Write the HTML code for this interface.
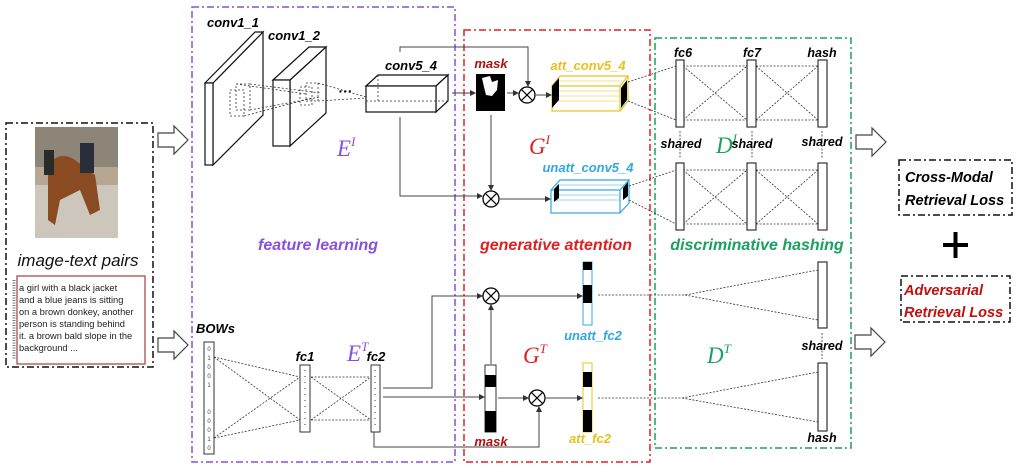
<!DOCTYPE html>
<html><head><meta charset="utf-8"><style>
body{margin:0;background:#fff}
svg{display:block}
text{font-family:"Liberation Sans",sans-serif;font-weight:bold;font-style:italic}
text.n{font-weight:normal}
text.p{font-weight:normal;font-style:normal}
text.s{font-family:"Liberation Serif",serif;font-weight:normal;font-style:italic}
</style></head><body>
<svg width="1021" height="472" viewBox="0 0 1021 472" xmlns="http://www.w3.org/2000/svg">
<defs>
<marker id="a" markerWidth="6" markerHeight="6" refX="5" refY="3" orient="auto"><path d="M0,0 L6,3 L0,6 z" fill="#333"/></marker>
<g id="ox"><circle r="8" fill="#fff" stroke="#000" stroke-width="1.3"/><path d="M-5.6,-5.6 L5.6,5.6 M5.6,-5.6 L-5.6,5.6" stroke="#000" stroke-width="1.2"/></g>
<g id="barr"><path d="M0,-7 H16 V-14 L30,0 L16,14 V7 H0 Z" fill="#fff" stroke="#444" stroke-width="1.2"/></g>
</defs>

<rect x="6" y="123" width="147" height="244" fill="none" stroke="#111" stroke-width="1.5" stroke-dasharray="7,3,2,3"/>
<rect x="192" y="7" width="263" height="455" fill="none" stroke="#8a4fe0" stroke-width="1.5" stroke-dasharray="7,3,2,3"/>
<rect x="464" y="30" width="186" height="432" fill="none" stroke="#e02020" stroke-width="1.5" stroke-dasharray="7,3,2,3"/>
<rect x="655" y="38" width="196" height="410" fill="none" stroke="#1aa060" stroke-width="1.5" stroke-dasharray="7,3,2,3"/>

<rect x="35" y="127" width="83" height="111" fill="#b7a792"/>
<rect x="35" y="127" width="83" height="40" fill="#8d8578"/>
<rect x="35" y="185" width="83" height="53" fill="#ccc6bd"/>
<path d="M48,165 Q60,150 75,160 L95,175 L100,210 L90,215 L80,190 L60,200 L55,225 L48,220 Z" fill="#8a4a22"/>
<rect x="80" y="143" width="14" height="30" fill="#2a2e3a"/>
<rect x="44" y="150" width="10" height="25" fill="#2a2a2a"/>
<text class="n" x="78" y="266" font-size="17" text-anchor="middle" fill="#111">image-text pairs</text>
<rect x="17" y="276" width="128" height="88" fill="#fff" stroke="#a04040" stroke-width="1.2"/>
<line x1="14" y1="280" x2="14" y2="360" stroke="#777" stroke-width="3" stroke-dasharray="1,1.5"/>
<g font-size="9.3" fill="#222">
<text class="p" x="19" y="291">a girl with a black jacket</text>
<text class="p" x="19" y="303">and a blue jeans is sitting</text>
<text class="p" x="19" y="315">on a brown donkey, another</text>
<text class="p" x="19" y="327">person is standing behind</text>
<text class="p" x="19" y="339">it. a brown bald slope in the</text>
<text class="p" x="19" y="351">background ...</text>
</g>
<use href="#barr" x="158" y="140"/>
<use href="#barr" x="158" y="345"/>
<use href="#barr" x="856" y="142"/>
<use href="#barr" x="855" y="342"/>

<g fill="#fff" stroke="#111" stroke-width="1.2">
<path d="M213,83 L263,32 L263,115 L213,165 Z"/>
<path d="M205,83 L255,32 L263,32 L213,83 Z"/>
<rect x="205" y="83" width="8" height="82"/>
<path d="M290,80 L326,47 L326,113 L290,146 Z"/>
<path d="M273,80 L309,47 L326,47 L290,80 Z"/>
<rect x="273" y="80" width="17" height="66"/>
<path d="M366,86 L378,75 L448,75 L436,86 Z"/>
<path d="M436,86 L448,75 L448,101 L436,112 Z"/>
<rect x="366" y="86" width="70" height="26"/>
</g>
<g fill="none" stroke="#333" stroke-width="0.8" stroke-dasharray="2,2">
<rect x="230" y="90" width="14" height="26"/><rect x="236" y="84" width="14" height="26"/>
<rect x="300" y="87" width="12" height="18"/><rect x="306" y="83" width="12" height="18"/>
<line x1="250" y1="84" x2="320" y2="93"/><line x1="250" y1="110" x2="320" y2="97"/>
<line x1="244" y1="116" x2="312" y2="98"/><line x1="236" y1="84" x2="306" y2="94"/>
<line x1="318" y1="83" x2="366" y2="97"/><line x1="318" y1="101" x2="366" y2="98"/>
<line x1="378" y1="75" x2="378" y2="101"/><line x1="366" y1="101" x2="448" y2="101"/>
</g>
<text x="338" y="96" font-size="14" fill="#000">···</text>
<g font-size="13" fill="#000">
<text x="233" y="27" text-anchor="middle">conv1_1</text>
<text x="294" y="40" text-anchor="middle">conv1_2</text>
<text x="385" y="70">conv5_4</text>
</g>
<g font-size="23">
<text class="s" x="337" y="156" fill="#8a4fe0">E<tspan font-size="13" dy="-10">I</tspan></text>
<text class="s" x="529" y="154" fill="#e02020">G<tspan font-size="13" dy="-10">I</tspan></text>
<text class="s" x="716" y="153" fill="#1aa060">D<tspan font-size="13" dy="-10">I</tspan></text>
<text class="s" x="347" y="361" fill="#8a4fe0">E<tspan font-size="13" dy="-10">T</tspan></text>
<text class="s" x="523" y="363" fill="#e02020">G<tspan font-size="13" dy="-10">T</tspan></text>
<text class="s" x="707" y="363" fill="#1aa060">D<tspan font-size="13" dy="-10">T</tspan></text>
</g>

<g font-size="16">
<text x="318" y="250" text-anchor="middle" fill="#8a4fe0">feature  learning</text>
<text x="556" y="250" text-anchor="middle" fill="#e02020">generative attention</text>
<text x="757" y="250" text-anchor="middle" fill="#1aa060">discriminative hashing</text>
</g>

<rect x="476" y="74" width="29" height="37" fill="#000"/>
<path d="M482,78 L490,76 L492,82 L498,80 L497,90 L492,96 L486,95 L484,87 Z" fill="#fff"/>
<text x="491" y="68" font-size="13" text-anchor="middle" fill="#b01010">mask</text>
<g fill="none" stroke="#e8c020" stroke-width="1.2">
<rect x="552" y="86" width="68" height="25"/>
<path d="M552,86 L560,76 L628,76 L620,86 M620,111 L628,101 L628,76"/>
<path d="M556,81 H624 M554,91 H620 M554,96 H620 M554,101 H620" stroke-width="0.5"/>
</g>
<path d="M552,86 L559,78 L559,100 L552,108 Z" fill="#000"/>
<path d="M621,88 L627,80 L627,100 L621,108 Z" fill="#000"/>
<text x="588" y="70" font-size="13" text-anchor="middle" fill="#e8c020">att_conv5_4</text>
<g fill="none" stroke="#30a8e0" stroke-width="1.2">
<rect x="551" y="190" width="69" height="23"/>
<path d="M551,190 L560,180 L629,180 L620,190 M620,213 L629,203 L629,180"/>
<path d="M555,185 H625 M553,195 H620 M553,200 H620" stroke-width="0.5"/>
</g>
<path d="M554,189 L559,184 L559,198 L554,202 Z" fill="#000"/>
<path d="M623,188 L628,182 L628,196 L623,200 Z" fill="#000"/>
<text x="588" y="172" font-size="13" text-anchor="middle" fill="#30a8e0">unatt_conv5_4</text>

<use href="#ox" x="527" y="95"/>
<use href="#ox" x="491" y="199"/>
<g fill="none" stroke="#444" stroke-width="1">
<path d="M400,52 V47 H528 V86" marker-end="url(#a)"/>
<path d="M452,93 H475" marker-end="url(#a)"/>
<path d="M507,93 H518" marker-end="url(#a)"/>
<path d="M536,95 H551" marker-end="url(#a)"/>
<path d="M400,117 V196 H482" marker-end="url(#a)"/>
<path d="M491,115 V190" marker-end="url(#a)"/>
<path d="M500,199 H550" marker-end="url(#a)"/>
</g>

<g fill="none" stroke="#333" stroke-width="0.8" stroke-dasharray="2,1.5">
<path d="M628,82 L676,66 M628,101 L676,120"/>
<path d="M629,186 L676,170 M629,200 L676,224"/>
<path d="M683,66 H747 M683,120 H747 M683,66 L747,120 M683,120 L747,66"/>
<path d="M756,66 H818 M756,120 H818 M756,66 L818,120 M756,120 L818,66"/>
<path d="M683,170 H747 M683,224 H747 M683,170 L747,224 M683,224 L747,170"/>
<path d="M756,170 H818 M756,224 H818 M756,170 L818,224 M756,224 L818,170"/>
<path d="M598,295 H685 L818,270 M685,295 L818,320"/>
<path d="M598,398 H682 L818,372 M682,398 L818,422"/>
<path d="M680,131 V159 M752,131 V159 M822,131 V159 M822,333 V359"/>
</g>
<g fill="#fff" stroke="#333" stroke-width="1.2">
<rect x="676" y="60" width="8" height="67"/><rect x="747" y="60" width="9" height="67"/><rect x="818" y="60" width="9" height="67"/>
<rect x="676" y="163" width="8" height="67"/><rect x="747" y="163" width="9" height="67"/><rect x="818" y="163" width="9" height="67"/>
<rect x="818" y="262" width="9" height="66"/><rect x="818" y="363" width="9" height="68"/>
</g>
<g fill="#000" font-size="12.5" text-anchor="middle">
<text x="683" y="57">fc6</text><text x="752" y="57">fc7</text><text x="822" y="57">hash</text>
<text x="681" y="148">shared</text><text x="752" y="148">shared</text><text x="822" y="146">shared</text>
<text x="822" y="350">shared</text><text x="822" y="442">hash</text>
</g>

<rect x="899" y="160" width="113" height="55" fill="none" stroke="#111" stroke-width="1.5" stroke-dasharray="7,3,2,3"/>
<text x="905" y="182" font-size="14.5" fill="#000">Cross-Modal</text>
<text x="905" y="205" font-size="14.5" fill="#000">Retrieval Loss</text>
<path d="M943,245 H968 M955.5,232 V258" stroke="#000" stroke-width="4"/>
<rect x="901" y="276" width="109" height="46" fill="none" stroke="#111" stroke-width="1.5" stroke-dasharray="7,3,2,3"/>
<text x="904" y="295" font-size="14.5" fill="#c01010">Adversarial</text>
<text x="904" y="317" font-size="14.5" fill="#c01010">Retrieval Loss</text>

<g fill="none" stroke="#333" stroke-width="0.8" stroke-dasharray="2,1.5">
<path d="M214,357 L300,377 M214,357 L300,420 M214,438 L300,377 M214,438 L300,420"/>
<path d="M311,377 H371 M311,420 H371 M311,377 L371,420 M311,420 L371,377"/>
</g>
<g fill="#fff" stroke="#333" stroke-width="1">
<rect x="204" y="342" width="10" height="112"/>
<rect x="300" y="365" width="10" height="67"/>
<rect x="371" y="365" width="9" height="67"/>
</g>
<g font-size="6" fill="#444" text-anchor="middle">
<text class="p" x="209" y="351">0</text><text class="p" x="209" y="360">1</text><text class="p" x="209" y="369">0</text><text class="p" x="209" y="378">0</text><text class="p" x="209" y="387">1</text>
<text class="p" x="209" y="414">0</text><text class="p" x="209" y="423">0</text><text class="p" x="209" y="432">0</text><text class="p" x="209" y="441">1</text><text class="p" x="209" y="450">0</text>
</g>
<path d="M305,370 V430 M375,370 V430" stroke="#333" stroke-width="1" stroke-dasharray="1,5"/>
<g fill="#000" font-size="13">
<text x="196" y="333">BOWs</text><text x="305" y="361" text-anchor="middle">fc1</text><text x="376" y="361" text-anchor="middle">fc2</text>
</g>

<rect x="485" y="365" width="11" height="67" fill="#fff" stroke="#333"/>
<rect x="485" y="375" width="11" height="12" fill="#000"/><rect x="485" y="411" width="11" height="21" fill="#000"/>
<text x="491" y="446" font-size="13" text-anchor="middle" fill="#b01010">mask</text>
<rect x="583" y="262" width="9" height="63" fill="#fff" stroke="#30a8e0"/>
<rect x="583" y="262" width="9" height="8" fill="#000"/><rect x="583" y="285" width="9" height="18" fill="#000"/>
<text x="593" y="340" font-size="13" text-anchor="middle" fill="#30a8e0">unatt_fc2</text>
<rect x="583" y="363" width="9" height="69" fill="#fff" stroke="#e8c020"/>
<rect x="583" y="372" width="9" height="15" fill="#000"/><rect x="583" y="410" width="9" height="22" fill="#000"/>
<text x="590" y="443" font-size="13" text-anchor="middle" fill="#e8c020">att_fc2</text>

<use href="#ox" x="491" y="296"/>
<use href="#ox" x="537" y="398"/>
<g fill="none" stroke="#444" stroke-width="1">
<path d="M383,388 H432 V296 H482" marker-end="url(#a)"/>
<path d="M383,397 H484" marker-end="url(#a)"/>
<path d="M498,398 H528" marker-end="url(#a)"/>
<path d="M546,398 H582" marker-end="url(#a)"/>
<path d="M374,432 V447 H539 V407" marker-end="url(#a)"/>
<path d="M491,364 V305" marker-end="url(#a)"/>
<path d="M500,296 H582" marker-end="url(#a)"/>
</g>
</svg>
</body></html>
